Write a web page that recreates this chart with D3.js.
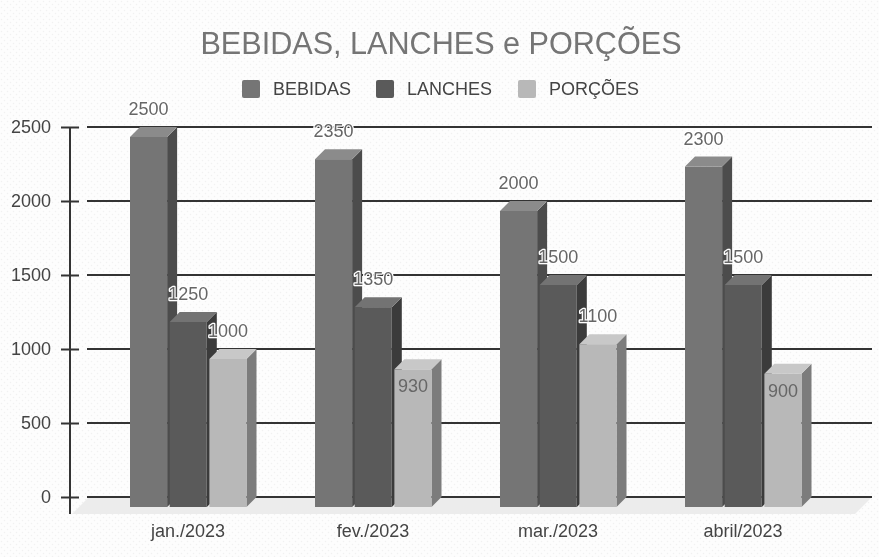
<!DOCTYPE html>
<html>
<head>
<meta charset="utf-8">
<script src="https://cdn.jsdelivr.net/npm/d3@7"></script>
<style>
    html, body { margin: 0; padding: 0; background: #fff; }
    text { font-family: "Liberation Sans", Arial, sans-serif; }
</style>
</head>
<body>
<div id="chart"></div>
<script>
const months = ["jan./2023", "fev./2023", "mar./2023", "abril/2023"];
const seriesNames = ["BEBIDAS", "LANCHES", "PORÇÕES"];
const bebidas = [2500, 2350, 2000, 2300];
const lanches = [1250, 1350, 1500, 1500];
const porcoes = [1000, 930, 1100, 900];
const yTicks = [0, 500, 1000, 1500, 2000, 2500];

const seriesValues = [bebidas, lanches, porcoes];
const colors = {
    BEBIDAS: { front: "#757575", top: "#8b8b8b", side: "#4c4c4c" },
    LANCHES: { front: "#5a5a5a", top: "#737373", side: "#3b3b3b" },
    "PORÇÕES": { front: "#b8b8b8", top: "#c8c8c8", side: "#7c7c7c" }
};

const width = 879, height = 557;
const depth = 10; // fake 3d offset of the bars

const svg = d3.select("#chart").append("svg")
    .attr("width", width)
    .attr("height", height)
    .style("display", "block")
    .style("filter", "blur(0.35px)"); // the reference is a soft screenshot

// dotted paper background
const defs = svg.append("defs");
const paper = defs.append("pattern")
    .attr("id", "paper")
    .attr("width", 6).attr("height", 6)
    .attr("patternUnits", "userSpaceOnUse");
paper.append("rect").attr("width", 6).attr("height", 6).attr("fill", "#fdfdfd");
paper.append("circle").attr("cx", 1.5).attr("cy", 1.5).attr("r", 0.7).attr("fill", "#f1f1f1");
paper.append("circle").attr("cx", 4.5).attr("cy", 4.5).attr("r", 0.7).attr("fill", "#f1f1f1");

svg.append("rect").attr("width", width).attr("height", height).attr("fill", "url(#paper)");

// scales
const x = d3.scaleBand().domain(months).range([95.5, 835.5]);
const xInner = d3.scaleBand().domain(seriesNames).range([34.5, 151]).paddingInner(0.065);
const y = d3.scaleLinear().domain([0, 2500]).range([497, 127]);

// floor
const floorBack = y(0), floorFront = y(0) + 17;
svg.append("path")
    .attr("d", `M72,${floorFront} L89,${floorBack} L872,${floorBack} L855,${floorFront} Z`)
    .attr("fill", "#ececec");

// gridlines
svg.append("g").selectAll("line")
    .data(yTicks)
    .enter().append("line")
    .attr("x1", 87).attr("x2", 872)
    .attr("y1", d => y(d)).attr("y2", d => y(d))
    .attr("stroke", "#333")
    .attr("stroke-width", 2);

// y axis
const yAxis = d3.axisLeft(y).tickValues(yTicks).tickSize(18).tickPadding(10).tickFormat(d3.format("d"));
const yAxisGroup = svg.append("g")
    .attr("transform", "translate(79,0)")
    .call(yAxis);
yAxisGroup.select(".domain").remove();
yAxisGroup.selectAll("line").attr("stroke", "#333").attr("stroke-width", 2);
yAxisGroup.selectAll("text")
    .attr("fill", "#444")
    .style("font-size", "18px")
    .style("font-family", '"Liberation Sans", Arial, sans-serif');

svg.append("line")
    .attr("x1", 70).attr("x2", 70)
    .attr("y1", y(2500)).attr("y2", floorFront)
    .attr("stroke", "#333")
    .attr("stroke-width", 2);

// one row per bar
const bars = [];
months.forEach((month, i) => {
    seriesNames.forEach((name, j) => {
        bars.push({ month: month, name: name, value: seriesValues[j][i] });
    });
});

const barGroup = svg.append("g");
const bar = barGroup.selectAll(".bar")
    .data(bars)
    .enter().append("g")
    .attr("class", "bar");

const frontX = d => x(d.month) + xInner(d.name);
const w = xInner.bandwidth();

// side face
bar.append("path")
    .attr("d", d => {
        const x0 = frontX(d) + w;
        return `M${x0},${y(d.value) + depth} L${x0 + depth},${y(d.value)} L${x0 + depth},${y(0)} L${x0},${y(0) + depth} Z`;
    })
    .attr("fill", d => colors[d.name].side);

// top face
bar.append("path")
    .attr("d", d => {
        const x0 = frontX(d);
        return `M${x0},${y(d.value) + depth} L${x0 + depth},${y(d.value)} L${x0 + w + depth},${y(d.value)} L${x0 + w},${y(d.value) + depth} Z`;
    })
    .attr("fill", d => colors[d.name].top);

// front face
bar.append("rect")
    .attr("x", d => frontX(d))
    .attr("y", d => y(d.value) + depth)
    .attr("width", w)
    .attr("height", d => y(0) - y(d.value))
    .attr("fill", d => colors[d.name].front);

// value labels, short bars next to taller neighbours get it inside
svg.append("g").selectAll("text")
    .data(bars)
    .enter().append("text")
    .attr("x", d => frontX(d) + w / 2)
    .attr("y", d => d.value < 1000 ? y(d.value) + 33 : y(d.value) - 12)
    .attr("text-anchor", "middle")
    .attr("fill", "#666")
    .attr("stroke", d => d.value < 1000 ? "none" : "#fff")
    .attr("stroke-width", 2.5)
    .attr("stroke-linejoin", "round")
    .style("paint-order", "stroke")
    .style("font-size", "18px")
    .text(d => d.value);

// month labels
svg.append("g").selectAll("text")
    .data(months)
    .enter().append("text")
    .attr("x", d => x(d) + x.bandwidth() / 2)
    .attr("y", 537)
    .attr("text-anchor", "middle")
    .attr("fill", "#444")
    .style("font-size", "18px")
    .text(d => d);

// title
svg.append("text")
    .attr("x", 441)
    .attr("y", 54)
    .attr("text-anchor", "middle")
    .attr("fill", "#757575")
    .style("font-size", "30.6px")
    .text("BEBIDAS, LANCHES e PORÇÕES");

// legend
const legendX = d3.scaleOrdinal().domain(seriesNames).range([242, 376, 518]);
const legend = svg.append("g").selectAll("g")
    .data(seriesNames)
    .enter().append("g")
    .attr("transform", d => `translate(${legendX(d)},80)`);
legend.append("rect")
    .attr("width", 18).attr("height", 18).attr("rx", 2)
    .attr("fill", d => colors[d].front);
legend.append("text")
    .attr("x", 31)
    .attr("y", 14.5)
    .attr("fill", "#444")
    .style("font-size", "18px")
    .text(d => d);
</script>
</body>
</html>
